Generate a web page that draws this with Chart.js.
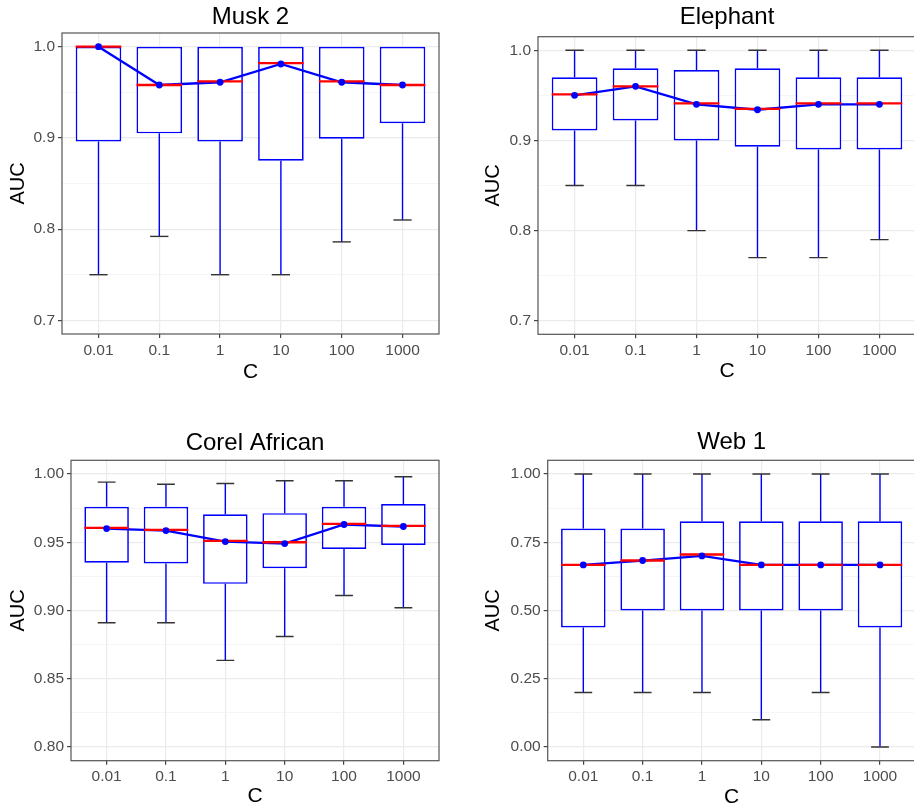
<!DOCTYPE html>
<html>
<head>
<meta charset="utf-8">
<script src="https://cdn.jsdelivr.net/npm/chart.js@4.4.1/dist/chart.umd.min.js"></script>
<style>
  html, body { margin: 0; padding: 0; background: #fff; }
  body { width: 914px; height: 808px; overflow: hidden; position: relative; }
  canvas { position: absolute; }
</style>
</head>
<body>
<script>
// ---------------- data ----------------
const cLabels = ['0.01', '0.1', '1', '10', '100', '1000'];

// Musk 2
const musk2Lower  = [0.750, 0.792, 0.750, 0.750, 0.786, 0.810];
const musk2Q1     = [0.896, 0.905, 0.896, 0.875, 0.899, 0.916];
const musk2Median = [1.000, 0.958, 0.962, 0.982, 0.962, 0.958];
const musk2Q3     = [1.000, 1.000, 1.000, 1.000, 1.000, 1.000];
const musk2Upper  = [1.000, 1.000, 1.000, 1.000, 1.000, 1.000];
const musk2Mean   = [1.000, 0.958, 0.961, 0.981, 0.961, 0.958];
const musk2Ticks  = [0.7, 0.8, 0.9, 1.0];
const musk2Minor  = [0.75, 0.85, 0.95];

// Elephant
const elephantLower  = [0.850, 0.850, 0.800, 0.770, 0.770, 0.790];
const elephantQ1     = [0.911, 0.922, 0.900, 0.893, 0.890, 0.890];
const elephantMedian = [0.951, 0.960, 0.941, 0.935, 0.941, 0.941];
const elephantQ3     = [0.970, 0.980, 0.978, 0.980, 0.970, 0.970];
const elephantUpper  = [1.000, 1.000, 1.000, 1.000, 1.000, 1.000];
const elephantMean   = [0.950, 0.960, 0.940, 0.934, 0.940, 0.940];
const elephantTicks  = [0.7, 0.8, 0.9, 1.0];
const elephantMinor  = [0.75, 0.85, 0.95];

// Corel African
const corelLower  = [0.891, 0.891, 0.8635, 0.881, 0.911, 0.902];
const corelQ1     = [0.935, 0.9345, 0.9195, 0.931, 0.945, 0.948];
const corelMedian = [0.9605, 0.959, 0.951, 0.950, 0.9635, 0.962];
const corelQ3     = [0.976, 0.976, 0.9705, 0.9713, 0.976, 0.978];
const corelUpper  = [0.994, 0.9925, 0.993, 0.995, 0.995, 0.998];
const corelMean   = [0.960, 0.9585, 0.9505, 0.949, 0.963, 0.9615];
const corelTicks  = [0.80, 0.85, 0.90, 0.95, 1.00];
const corelMinor  = [0.825, 0.875, 0.925, 0.975];

// Web 1
const web1Lower  = [0.20, 0.20, 0.20, 0.10, 0.20, 0.00];
const web1Q1     = [0.4375, 0.50, 0.50, 0.50, 0.50, 0.4375];
const web1Median = [0.667, 0.683, 0.705, 0.667, 0.667, 0.667];
const web1Q3     = [0.80, 0.80, 0.827, 0.827, 0.827, 0.827];
const web1Upper  = [1.00, 1.00, 1.00, 1.00, 1.00, 1.00];
const web1Mean   = [0.667, 0.683, 0.700, 0.667, 0.667, 0.667];
const web1Ticks  = [0.00, 0.25, 0.50, 0.75, 1.00];
const web1Minor  = [0.125, 0.375, 0.625, 0.875];

// ---------------- drawing ----------------
Chart.defaults.font.family = "'Liberation Sans', Arial, sans-serif";
const BLUE = '#0000ff';

const framePlugin = {
  id: 'frame',
  afterDatasetsDraw(chart) {
    const a = chart.chartArea, ctx = chart.ctx;
    ctx.save();
    ctx.strokeStyle = '#555555';
    ctx.lineWidth = 1.2;
    ctx.strokeRect(a.left, a.top, a.right - a.left, a.bottom - a.top);
    ctx.restore();
  }
};

function xUnit(chart, u) {
  const s = chart.scales.x;
  return Math.abs(s.getPixelForValue(u) - s.getPixelForValue(0));
}

function makePanel(p) {
  const canvas = document.createElement('canvas');
  canvas.width = p.rect.w; canvas.height = p.rect.h;
  canvas.style.left = p.rect.left + 'px';
  canvas.style.top = p.rect.top + 'px';
  canvas.style.width = p.rect.w + 'px';
  canvas.style.height = p.rect.h + 'px';
  document.body.appendChild(canvas);

  const idx = cLabels.map((_, i) => i);
  const titleLH = 24 * 1.2;
  const tPadTop = p.titleY - p.rect.top - titleLH / 2;
  const tPadBottom = (p.frame.T - p.rect.top) - titleLH - tPadTop;
  const xTitleLH = 21 * 1.2;
  const xPadBottom = (p.rect.top + p.rect.h) - p.xTitleY - xTitleLH / 2;
  const yTitleLH = 20 * 1.2;
  const yPadTop = p.yTitleX - p.rect.left - yTitleLH / 2;
  const allY = p.ticks.concat(p.minor).sort((a, b) => a - b);
  const isMinor = v => p.minor.indexOf(v) !== -1;

  // whisker caps only where a whisker exists beyond the box
  const capData = idx.filter(i => p.lower[i] < p.q1[i]).map(i => ({ x: i, y: p.lower[i] }))
    .concat(idx.filter(i => p.upper[i] > p.q3[i]).map(i => ({ x: i, y: p.upper[i] })));

  new Chart(canvas, {
    type: 'bar',
    data: {
      datasets: [
        { type: 'bar', label: 'whisker low',
          data: idx.map(i => ({ x: i, y: [p.lower[i], p.q1[i]] })),
          backgroundColor: BLUE, borderWidth: 0, barThickness: 1.4, inflateAmount: 0,
          grouped: false, order: 7 },
        { type: 'bar', label: 'whisker high',
          data: idx.map(i => ({ x: i, y: [p.q3[i], p.upper[i]] })),
          backgroundColor: BLUE, borderWidth: 0, barThickness: 1.4, inflateAmount: 0,
          grouped: false, order: 7 },
        { type: 'scatter', label: 'caps', data: capData,
          pointStyle: 'line', pointRadius: ctx => xUnit(ctx.chart, 0.15),
          pointBorderColor: '#333333', pointBorderWidth: 1.4, order: 6 },
        { type: 'bar', label: 'box',
          data: idx.map(i => ({ x: i, y: [p.q1[i], p.q3[i]] })),
          backgroundColor: '#ffffff', borderColor: BLUE, borderWidth: 1.7, borderSkipped: false,
          inflateAmount: 0, barPercentage: 0.75, categoryPercentage: 1, grouped: false, order: 5 },
        { type: 'line', label: 'mean line',
          data: idx.map(i => ({ x: i, y: p.mean[i] })),
          borderColor: BLUE, borderWidth: 2.3, pointRadius: 0, tension: 0, fill: false, order: 4 },
        { type: 'scatter', label: 'median',
          data: idx.map(i => ({ x: i, y: p.median[i] })),
          pointStyle: 'line', pointRadius: ctx => xUnit(ctx.chart, 0.375),
          pointBorderColor: '#ff0000', pointBorderWidth: 2.3, order: 3 },
        { type: 'scatter', label: 'mean',
          data: idx.map(i => ({ x: i, y: p.mean[i] })),
          pointRadius: 3.4, pointBackgroundColor: BLUE, pointBorderWidth: 0, order: 2 }
      ]
    },
    options: {
      responsive: false,
      animation: false,
      events: [],
      layout: { padding: { left: 0, top: 0, bottom: 0, right: (p.rect.left + p.rect.w) - p.frame.R } },
      plugins: {
        legend: { display: false },
        tooltip: { enabled: false },
        title: {
          display: true, text: p.title, fullSize: false, color: '#000000',
          font: { size: 24, weight: 'normal' },
          padding: { top: tPadTop, bottom: tPadBottom }
        }
      },
      scales: {
        x: {
          type: 'linear', min: -0.6, max: 5.6, offset: false,
          afterBuildTicks: s => { s.ticks = idx.map(i => ({ value: i })); },
          afterFit: s => { s.height = (p.rect.top + p.rect.h) - p.frame.B; },
          ticks: { autoSkip: false, maxRotation: 0, padding: 3, color: '#4d4d4d',
                   font: { size: 15.5 }, callback: v => cLabels[v] },
          grid: { offset: false, color: '#ebebeb', lineWidth: 1.2, tickLength: 4,
                  tickColor: '#444444', tickWidth: 1.2 },
          border: { display: false },
          title: { display: true, text: 'C', color: '#000000', font: { size: 21 },
                   padding: { top: 0, bottom: xPadBottom } }
        },
        y: {
          type: 'linear', min: p.ymin, max: p.ymax, beginAtZero: false,
          afterBuildTicks: s => { s.ticks = allY.map(v => ({ value: v })); },
          afterFit: s => { s.width = p.frame.L - p.rect.left; },
          ticks: { autoSkip: false, padding: 3, color: '#4d4d4d', font: { size: 15.5 },
                   callback: v => isMinor(v) ? '' : v.toFixed(p.dec) },
          grid: {
            color: ctx => (ctx.tick && isMinor(ctx.tick.value)) ? '#f1f1f1' : '#ebebeb',
            lineWidth: ctx => (ctx.tick && isMinor(ctx.tick.value)) ? 0.7 : 1.2,
            tickLength: 4,
            tickColor: ctx => (ctx.tick && isMinor(ctx.tick.value)) ? 'rgba(0,0,0,0)' : '#444444',
            tickWidth: 1.2
          },
          border: { display: false },
          title: { display: true, text: 'AUC', color: '#000000', font: { size: 20 },
                   padding: { top: yPadTop, bottom: 0 } }
        }
      }
    },
    plugins: [framePlugin]
  });
}

makePanel({
  title: 'Musk 2', rect: { left: 0, top: 0, w: 457, h: 400 },
  frame: { L: 62, T: 33, R: 439, B: 334 }, titleY: 17.2, xTitleY: 372, yTitleX: 18,
  ymin: 0.685, ymax: 1.015, dec: 1, ticks: musk2Ticks, minor: musk2Minor,
  lower: musk2Lower, q1: musk2Q1, median: musk2Median, q3: musk2Q3, upper: musk2Upper, mean: musk2Mean
});
makePanel({
  title: 'Elephant', rect: { left: 457, top: 0, w: 470, h: 400 },
  frame: { L: 538, T: 36.7, R: 916, B: 334.3 }, titleY: 17.2, xTitleY: 371.7, yTitleX: 493.7,
  ymin: 0.685, ymax: 1.015, dec: 1, ticks: elephantTicks, minor: elephantMinor,
  lower: elephantLower, q1: elephantQ1, median: elephantMedian, q3: elephantQ3, upper: elephantUpper, mean: elephantMean
});
makePanel({
  title: 'Corel African', rect: { left: 0, top: 400, w: 457, h: 420 },
  frame: { L: 71, T: 460.3, R: 439, B: 760.7 }, titleY: 443.3, xTitleY: 796.7, yTitleX: 18.3,
  ymin: 0.79, ymax: 1.01, dec: 2, ticks: corelTicks, minor: corelMinor,
  lower: corelLower, q1: corelQ1, median: corelMedian, q3: corelQ3, upper: corelUpper, mean: corelMean
});
makePanel({
  title: 'Web 1', rect: { left: 457, top: 400, w: 470, h: 420 },
  frame: { L: 547.7, T: 460.3, R: 915.6, B: 760.7 }, titleY: 442.5, xTitleY: 797, yTitleX: 493.7,
  ymin: -0.05, ymax: 1.05, dec: 2, ticks: web1Ticks, minor: web1Minor,
  lower: web1Lower, q1: web1Q1, median: web1Median, q3: web1Q3, upper: web1Upper, mean: web1Mean
});
</script>
</body>
</html>
